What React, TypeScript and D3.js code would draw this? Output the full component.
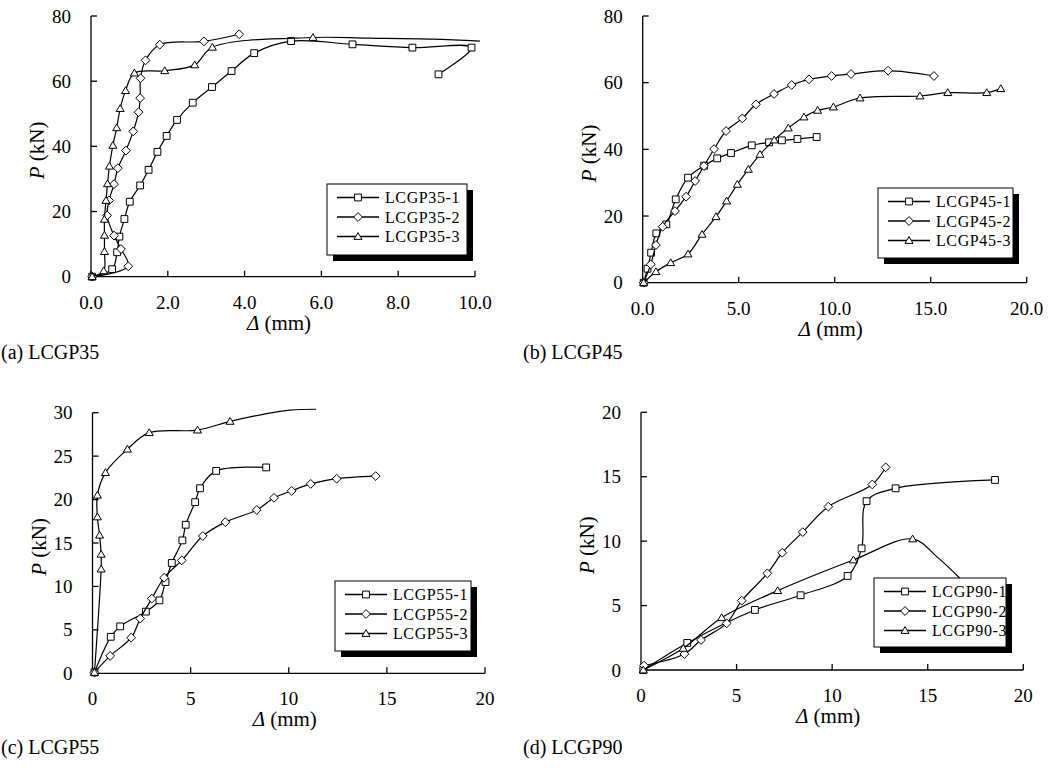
import React from 'react'
import * as d3 from 'd3'

type Pt = [number, number]

// (a) LCGP35, [deflection mm, load kN]
const lcgp35_1: Pt[] = [
    [0.03, 0], [0.55, 2.3], [0.68, 7.5], [0.74, 12.3], [0.87, 17.7], [1.01, 23.0],
    [1.28, 28.0], [1.5, 32.8], [1.73, 38.3], [1.97, 43.2], [2.24, 48.1], [2.65, 53.4],
    [3.15, 58.2], [3.66, 63.1], [4.25, 68.6], [5.21, 72.3], [6.81, 71.3], [8.37, 70.3],
    [9.91, 70.3], [9.05, 62.1],
]
const lcgp35_2: Pt[] = [
    [0.03, 0], [0.97, 3.2], [0.78, 8.5], [0.6, 12.6], [0.42, 18.8], [0.47, 23.4],
    [0.6, 28.4], [0.7, 33.3], [0.91, 38.7], [1.1, 44.6], [1.24, 50.5], [1.28, 54.8],
    [1.29, 60.9], [1.42, 66.4], [1.79, 71.2], [2.94, 72.2], [3.86, 74.4],
]
const lcgp35_3: Pt[] = [
    [0.03, 0], [0.33, 1.8], [0.35, 7.7], [0.35, 12.7], [0.35, 17.6], [0.39, 23.4],
    [0.43, 28.5], [0.48, 33.9], [0.57, 40.3], [0.67, 45.7], [0.76, 51.6], [0.9, 57.1],
    [1.13, 62.5], [1.92, 63.2], [2.7, 65.0], [3.16, 70.4], [5.78, 73.4],
]
const lcgp35_3Tail: Pt[] = [[7.2, 73.2], [8.9, 72.9], [10.13, 72.3]]

// (b) LCGP45
const lcgp45_1: Pt[] = [
    [0.05, 0], [0.25, 4.2], [0.44, 9.0], [0.71, 14.8], [1.23, 17.5], [1.72, 25.0],
    [2.36, 31.5], [3.2, 35.1], [3.88, 37.3], [4.6, 38.9], [5.68, 41.2], [6.58, 42.1],
    [7.25, 42.7], [8.06, 43.1], [9.06, 43.7],
]
const lcgp45_2: Pt[] = [
    [0.05, 0], [0.42, 5.5], [0.69, 11.3], [1.04, 16.8], [1.68, 21.5], [2.26, 25.8],
    [2.73, 30.5], [3.19, 35.0], [3.72, 40.1], [4.34, 45.5], [5.19, 49.3], [5.9, 53.5],
    [6.84, 56.6], [7.76, 59.3], [8.66, 61.0], [9.84, 62.0], [10.85, 62.6], [12.78, 63.6],
    [15.17, 62.0],
]
const lcgp45_3: Pt[] = [
    [0.05, 0], [0.69, 3.3], [1.46, 6.0], [2.36, 8.6], [3.09, 14.5], [3.82, 19.8],
    [4.37, 24.5], [4.93, 29.5], [5.5, 34.0], [6.11, 38.5], [6.85, 42.8], [7.58, 46.4],
    [8.4, 49.7], [9.11, 51.7], [9.93, 52.7], [11.32, 55.4], [14.44, 56.0], [15.89, 57.0],
    [17.92, 57.0], [18.65, 58.2],
]

// (c) LCGP55
const lcgp55_1: Pt[] = [
    [0.1, 0.1], [0.93, 4.2], [1.41, 5.4], [2.72, 7.1], [3.41, 8.4], [3.72, 10.5],
    [4.04, 12.7], [4.58, 15.3], [4.75, 17.1], [5.23, 19.7], [5.48, 21.3], [6.3, 23.3],
    [8.85, 23.7],
]
const lcgp55_2: Pt[] = [
    [0.1, 0.1], [0.9, 2.0], [1.97, 4.1], [2.43, 6.3], [3.02, 8.6], [3.65, 11.0],
    [4.55, 13.0], [5.62, 15.8], [6.77, 17.4], [8.37, 18.8], [9.25, 20.2], [10.15, 21.0],
    [11.12, 21.8], [12.44, 22.4], [14.43, 22.7],
]
const lcgp55_3: Pt[] = [
    [0.1, 0.1], [0.44, 12.0], [0.44, 13.7], [0.36, 15.9], [0.25, 18.0], [0.25, 20.5],
    [0.66, 23.1], [1.78, 25.8], [2.89, 27.7], [5.35, 28.0], [7.01, 29.0],
]
const lcgp55_3Tail: Pt[] = [[8.88, 29.9], [10.07, 30.3], [11.39, 30.4]]

// (d) LCGP90
const lcgp90_1: Pt[] = [
    [0.12, 0], [2.42, 2.1], [5.96, 4.66], [8.35, 5.8], [10.81, 7.3], [11.54, 9.44],
    [11.8, 13.1], [13.32, 14.1], [18.52, 14.75],
]
const lcgp90_2: Pt[] = [
    [0.16, 0.34], [2.27, 1.24], [3.14, 2.33], [4.48, 3.62], [5.27, 5.38], [6.61, 7.5],
    [7.39, 9.1], [8.46, 10.7], [9.8, 12.68], [12.1, 14.4], [12.8, 15.73],
]
const lcgp90_3: Pt[] = [
    [0.12, 0], [2.21, 1.68], [4.22, 4.06], [7.15, 6.16], [11.11, 8.54], [14.21, 10.17],
]
const lcgp90_3Tail: Pt[] = [[15.47, 8.8], [16.51, 7.37], [17.4, 6.0]]

const names35 = ['LCGP35-1', 'LCGP35-2', 'LCGP35-3']
const names45 = ['LCGP45-1', 'LCGP45-2', 'LCGP45-3']
const names55 = ['LCGP55-1', 'LCGP55-2', 'LCGP55-3']
const names90 = ['LCGP90-1', 'LCGP90-2', 'LCGP90-3']

const xTicks35 = [0, 2, 4, 6, 8, 10]
const xTicks20 = [0, 5, 10, 15, 20]
const yTicks80 = [0, 20, 40, 60, 80]
const yTicks30 = [0, 5, 10, 15, 20, 25, 30]
const yTicks20 = [0, 5, 10, 15, 20]

const FONT = '"Liberation Serif", "Times New Roman", Times, serif'

function Marker({ kind, x, y }: { kind: number; x: number; y: number }) {
    let d
    if (kind === 0) d = `M${x - 3.4},${y - 3.4}h6.8v6.8h-6.8Z`
    else if (kind === 1) d = `M${x},${y - 4.4}L${x + 4.4},${y}L${x},${y + 4.4}L${x - 4.4},${y}Z`
    else d = `M${x},${y - 3.9}L${x + 4},${y + 2.9}L${x - 4},${y + 2.9}Z`
    return <path d={d} fill="white" stroke="black" strokeWidth={1} />
}

function Panel({ cfg }: { cfg: any }) {
    const x = d3.scaleLinear().domain(cfg.xDomain).range([cfg.left, cfg.right])
    const y = d3.scaleLinear().domain(cfg.yDomain).range([cfg.bottom, cfg.top])
    const line = d3
        .line<Pt>()
        .x((d) => x(d[0]))
        .y((d) => y(d[1]))
        .curve(d3.curveCatmullRom.alpha(0.5))
    const lg = cfg.legend
    const rows = [13.5, 33, 52.5]

    return (
        <g fontFamily={FONT} fill="black">
            {/* axes, ticks pointing inward */}
            <line x1={cfg.left} x2={cfg.left} y1={cfg.bottom} y2={cfg.top} stroke="black" strokeWidth={1.3} />
            <line x1={cfg.left} x2={cfg.right} y1={cfg.bottom} y2={cfg.bottom} stroke="black" strokeWidth={1.3} />
            {cfg.yTicks.map((t: number) => (
                <g key={'y' + t}>
                    <line x1={cfg.left} x2={cfg.left + 6} y1={y(t)} y2={y(t)} stroke="black" strokeWidth={1.3} />
                    <text x={cfg.left - 20} y={y(t)} textAnchor="end" dominantBaseline="central" fontSize={19}>
                        {t}
                    </text>
                </g>
            ))}
            {cfg.xTicks.map((t: number) => (
                <g key={'x' + t}>
                    <line x1={x(t)} x2={x(t)} y1={cfg.bottom} y2={cfg.bottom - 6} stroke="black" strokeWidth={1.3} />
                    <text x={x(t)} y={cfg.bottom + 32} textAnchor="middle" fontSize={19}>
                        {cfg.xFormat(t)}
                    </text>
                </g>
            ))}
            <text
                x={(cfg.left + cfg.right) / 2 - 4}
                y={cfg.bottom + 53}
                textAnchor="middle"
                fontSize={21}
            >
                <tspan fontStyle="italic">Δ</tspan> (mm)
            </text>
            <text
                transform={`translate(${cfg.left - 54},${(cfg.top + cfg.bottom) / 2 + 4}) rotate(-90)`}
                textAnchor="middle"
                dominantBaseline="central"
                fontSize={21}
            >
                <tspan fontStyle="italic">P</tspan> (kN)
            </text>

            {/* curves */}
            {cfg.series.map((s: any, i: number) => (
                <g key={i}>
                    <path d={line(s.tail ? s.pts.concat(s.tail) : s.pts) || ''} fill="none" stroke="black" strokeWidth={1.2} />
                    {s.pts.map((p: Pt, j: number) => (
                        <Marker key={j} kind={i} x={x(p[0])} y={y(p[1])} />
                    ))}
                </g>
            ))}

            {/* legend with drop shadow */}
            <rect x={lg.x + 6} y={lg.y + 6} width={lg.w} height={lg.h} fill="black" />
            <rect x={lg.x} y={lg.y} width={lg.w} height={lg.h} fill="white" stroke="black" strokeWidth={1} />
            {cfg.names.map((n: string, i: number) => (
                <g key={n}>
                    <line x1={lg.x + 10} x2={lg.x + 52} y1={lg.y + rows[i]} y2={lg.y + rows[i]} stroke="black" strokeWidth={1.3} />
                    <Marker kind={i} x={lg.x + 31} y={lg.y + rows[i]} />
                    <text x={lg.x + 58} y={lg.y + rows[i]} dominantBaseline="central" fontSize={16} letterSpacing={0.6}>
                        {n}
                    </text>
                </g>
            ))}

            <text x={cfg.capX} y={cfg.capY} fontSize={20}>
                {cfg.caption}
            </text>
        </g>
    )
}

const fix1 = (t: number) => t.toFixed(1)
const plain = (t: number) => String(t)

const panels = [
    {
        left: 91, right: 475, top: 16, bottom: 276.7,
        xDomain: [0, 10], yDomain: [0, 80], xTicks: xTicks35, yTicks: yTicks80, xFormat: fix1,
        series: [{ pts: lcgp35_1 }, { pts: lcgp35_2 }, { pts: lcgp35_3, tail: lcgp35_3Tail }],
        names: names35, legend: { x: 327, y: 184, w: 140, h: 71 },
        caption: '(a) LCGP35', capX: 1, capY: 359,
    },
    {
        left: 642.7, right: 1026.7, top: 16, bottom: 282.7,
        xDomain: [0, 20], yDomain: [0, 80], xTicks: xTicks20, yTicks: yTicks80, xFormat: fix1,
        series: [{ pts: lcgp45_1 }, { pts: lcgp45_2 }, { pts: lcgp45_3 }],
        names: names45, legend: { x: 878, y: 188, w: 135, h: 70 },
        caption: '(b) LCGP45', capX: 523, capY: 359,
    },
    {
        left: 92.5, right: 485, top: 412.7, bottom: 673.3,
        xDomain: [0, 20], yDomain: [0, 30], xTicks: xTicks20, yTicks: yTicks30, xFormat: plain,
        series: [{ pts: lcgp55_1 }, { pts: lcgp55_2 }, { pts: lcgp55_3, tail: lcgp55_3Tail }],
        names: names55, legend: { x: 335, y: 581, w: 136, h: 70 },
        caption: '(c) LCGP55', capX: 1, capY: 754,
    },
    {
        left: 641, right: 1023.3, top: 412.3, bottom: 670,
        xDomain: [0, 20], yDomain: [0, 20], xTicks: xTicks20, yTicks: yTicks20, xFormat: plain,
        series: [{ pts: lcgp90_1 }, { pts: lcgp90_2 }, { pts: lcgp90_3, tail: lcgp90_3Tail }],
        names: names90, legend: { x: 874, y: 578, w: 132, h: 69 },
        caption: '(d) LCGP90', capX: 523, capY: 754,
    },
]

export default function App() {
    return (
        <svg
            width={1052}
            height={778}
            style={{ position: 'absolute', left: 0, top: 0, background: 'white' }}
        >
            <rect width={1052} height={778} fill="white" />
            {panels.map((p, i) => (
                <Panel key={i} cfg={p} />
            ))}
        </svg>
    )
}
